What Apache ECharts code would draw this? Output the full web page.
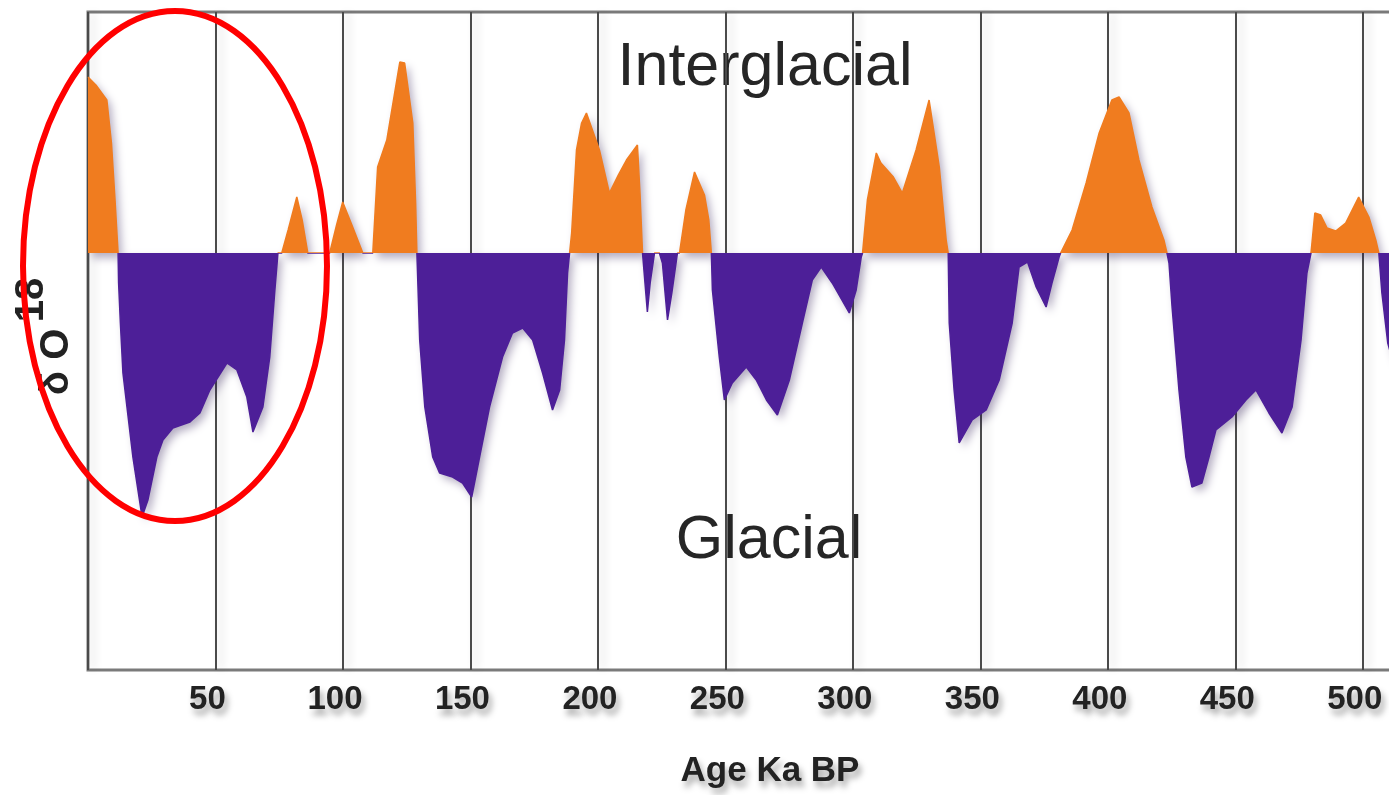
<!DOCTYPE html>
<html>
<head>
<meta charset="utf-8">
<script src="https://cdn.jsdelivr.net/npm/echarts@6/dist/echarts.min.js"></script>
<style>
  html, body { margin: 0; padding: 0; background: #fff; }
  #chart { width: 1389px; height: 795px; }
</style>
</head>
<body>
<div id="chart"></div>
<script>
// age in ka BP
const ages = [
  0, 3.1, 7.4, 9.2, 10.6, 11.8, 12.0, 12.7, 13.7, 17.6, 21.2, 23.5, 27.0, 29.4, 33.3, 40.0, 43.9, 47.8,
  54.5, 58.4, 62.3, 64.7, 68.6, 71.3, 73.3, 74.5, 76.0, 78.5, 81.9, 84.0, 86.2, 94.8, 97.5, 99.9,
  103.5, 107.8, 111.7, 113.6, 117.2, 122.3, 124.2, 127.4, 128.5, 129.0, 130.1, 132.1, 135.2, 137.9,
  143.0, 146.9, 150.5, 153.6, 157.5, 162.6, 166.5, 170.5, 174.4, 178.3, 182.2, 185.0, 186.9, 188.1,
  188.9, 189.7, 191.6, 193.6, 195.5, 200.6, 204.5, 208.0, 211.2, 215.5, 216.5, 217.5, 219.4, 220.5,
  222.2, 224.1, 225.3, 227.3, 229.0, 231.2, 232.0, 234.5, 237.9, 241.8, 243.5, 244.5, 244.9, 247.6,
  249.6, 252.7, 258.2, 262.1, 266.1, 270.4, 275.1, 280.2, 284.1, 287.6, 291.9, 298.6, 301.3, 303.3,
  303.8, 305.7, 309.2, 311.0, 315.9, 319.4, 324.8, 329.9, 333.9, 336.6, 337.4, 337.8, 339.7, 341.7,
  346.8, 352.3, 357.4, 362.5, 365.2, 368.5, 371.9, 375.8, 378.1, 380.9, 381.5, 386.0, 391.5, 396.6,
  401.6, 404.4, 408.3, 412.2, 417.3, 422.0, 423.2, 424.0, 425.2, 427.9, 430.6, 433.0, 436.9, 439.7,
  442.4, 448.7, 454.2, 458.1, 463.2, 468.3, 472.3, 475.8, 478.1, 479.7, 481.2, 483.5, 486.0, 489.4,
  493.3, 498.4, 502.4, 505.1, 506.3, 507.5, 509.8, 512.0
]
// delta O18 anomaly (positive = interglacial)
const d18o = [
  1.76, 1.68, 1.53, 1.1, 0.53, 0, -0.3, -0.7, -1.2, -2.04, -2.64, -2.47, -2.04, -1.87, -1.75, -1.69, -1.60, -1.37,
  -1.10, -1.17, -1.44, -1.79, -1.54, -1.04, -0.37, 0, 0, 0.23, 0.56, 0.33, 0, 0, 0.28, 0.51,
  0.28, 0, 0, 0.86, 1.13, 1.91, 1.90, 1.30, 0.50, 0, -0.87, -1.54, -2.04, -2.20,
  -2.24, -2.30, -2.44, -2.04, -1.54, -1.04, -0.80, -0.75, -0.87, -1.20, -1.57, -1.37, -0.87, -0.20,
  0, 0.20, 1.03, 1.30, 1.40, 1.03, 0.60, 0.78, 0.93, 1.08, 0.60, 0, -0.59, -0.30,
  0, 0, -0.10, -0.67, -0.40, 0, 0, 0.43, 0.81, 0.58, 0.33, 0, -0.37, -1.04,
  -1.47, -1.30, -1.14, -1.27, -1.47, -1.62, -1.27, -0.70, -0.27, -0.14, -0.30, -0.60, -0.37, -0.04,
  0, 0.53, 1.00, 0.90, 0.76, 0.60, 1.03, 1.53, 0.86, 0.13, 0, -0.70, -1.37, -1.90,
  -1.67, -1.57, -1.27, -0.70, -0.14, -0.09, -0.34, -0.54, -0.30, -0.04, 0, 0.23, 0.70, 1.20,
  1.53, 1.56, 1.40, 0.93, 0.46, 0.13, 0, -0.10, -0.54, -1.37, -2.04, -2.34, -2.30, -2.04,
  -1.77, -1.64, -1.47, -1.37, -1.60, -1.80, -1.54, -0.87, -0.20, 0, 0.40, 0.38, 0.25, 0.22,
  0.30, 0.56, 0.36, 0.13, 0, -0.40, -0.90, -1.10
]
const ageTicks = [50, 100, 150, 200, 250, 300, 350, 400, 450, 500]
const yMin = -4.17
const yMax = 2.41

const warmColor = '#f07c1f'
const coldColor = '#4d1f98'
const gridTop = 12
const gridBottom = 125
const chartH = 795
// where zero sits between the top and bottom of the plot
const zeroAt = yMax / (yMax - yMin)
const fillByValue = {
  type: 'linear',
  global: true,
  x: 0, y: gridTop, x2: 0, y2: chartH - gridBottom,
  colorStops: [
    { offset: 0, color: warmColor },
    { offset: zeroAt, color: warmColor },
    { offset: zeroAt, color: coldColor },
    { offset: 1, color: coldColor }
  ]
}
const textShadow = {
  textShadowColor: 'rgba(0, 0, 0, 0.35)',
  textShadowBlur: 6,
  textShadowOffsetX: 3,
  textShadowOffsetY: 6
}
const bigShadow = {
  shadowColor: 'rgba(0, 0, 0, 0.35)',
  shadowBlur: 8,
  shadowOffsetX: 3,
  shadowOffsetY: 7
}

const chart = echarts.init(document.getElementById('chart'))
chart.setOption({
  backgroundColor: '#fff',
  animation: false,
  grid: {
    left: 88,
    top: gridTop,
    right: -63,
    bottom: gridBottom,
    outerBoundsMode: 'none',
    containLabel: false,
    show: true,
    borderColor: '#7a7a7a',
    borderWidth: 3
  },
  xAxis: {
    type: 'value',
    min: 0,
    max: 535,
    interval: 50,
    name: 'Age Ka BP',
    nameLocation: 'middle',
    nameGap: 84,
    nameTextStyle: Object.assign({
      color: '#222',
      fontFamily: 'Liberation Sans, Arial, sans-serif',
      fontWeight: 'bold',
      fontSize: 35
    }, textShadow),
    axisLine: { show: false },
    axisTick: { show: false },
    axisLabel: Object.assign({
      margin: 13,
      padding: [0, 16, 0, 0],
      color: '#222',
      fontFamily: 'Liberation Sans, Arial, sans-serif',
      fontWeight: 'bold',
      fontSize: 33,
      showMinLabel: false,
      showMaxLabel: false,
      formatter: v => ageTicks.indexOf(v) >= 0 ? String(v) : ''
    }, textShadow),
    splitLine: {
      show: true,
      lineStyle: {
        color: '#4a4a4a',
        width: 2,
        shadowColor: 'rgba(0, 0, 0, 0.18)',
        shadowBlur: 8,
        shadowOffsetX: 5
      }
    }
  },
  yAxis: {
    type: 'value',
    min: yMin,
    max: yMax,
    show: false,
    splitLine: { show: false }
  },
  series: [{
    type: 'line',
    data: ages.map((a, i) => [a, d18o[i]]),
    showSymbol: false,
    smooth: false,
    color: coldColor,
    lineStyle: { width: 1.5, color: fillByValue },
    areaStyle: {
      opacity: 1,
      color: fillByValue,
      shadowColor: 'rgba(40, 20, 80, 0.35)',
      shadowBlur: 8,
      shadowOffsetX: 4,
      shadowOffsetY: 5
    }
  }],
  graphic: [
    {
      type: 'text',
      x: 765,
      y: 68,
      style: Object.assign({
        text: 'Interglacial',
        fill: '#262626',
        font: '61px "Liberation Sans", Arial, sans-serif',
        align: 'center',
        verticalAlign: 'middle'
      }, bigShadow)
    },
    {
      type: 'text',
      x: 769,
      y: 541,
      style: Object.assign({
        text: 'Glacial',
        fill: '#262626',
        font: '61px "Liberation Sans", Arial, sans-serif',
        align: 'center',
        verticalAlign: 'middle'
      }, bigShadow)
    },
    // y axis name, rotated, with the raised 18
    {
      type: 'text',
      x: 57,
      y: 362,
      rotation: Math.PI / 2,
      style: {
        text: 'δ O',
        fill: '#222',
        font: 'bold 40px "Liberation Sans", Arial, sans-serif',
        align: 'center',
        verticalAlign: 'middle',
        shadowColor: 'rgba(0, 0, 0, 0.3)',
        shadowBlur: 6,
        shadowOffsetX: 5,
        shadowOffsetY: 3
      }
    },
    {
      type: 'text',
      x: 32,
      y: 300,
      rotation: Math.PI / 2,
      style: {
        text: '18',
        fill: '#222',
        font: 'bold 40px "Liberation Sans", Arial, sans-serif',
        align: 'center',
        verticalAlign: 'middle',
        shadowColor: 'rgba(0, 0, 0, 0.3)',
        shadowBlur: 6,
        shadowOffsetX: 5,
        shadowOffsetY: 3
      }
    },
    // red highlight ring over the last glacial cycle
    {
      type: 'ellipse',
      shape: { cx: 175, cy: 266, rx: 152, ry: 255 },
      z: 100,
      style: {
        fill: 'none',
        stroke: '#ff0000',
        lineWidth: 6
      }
    }
  ]
})
</script>
</body>
</html>
